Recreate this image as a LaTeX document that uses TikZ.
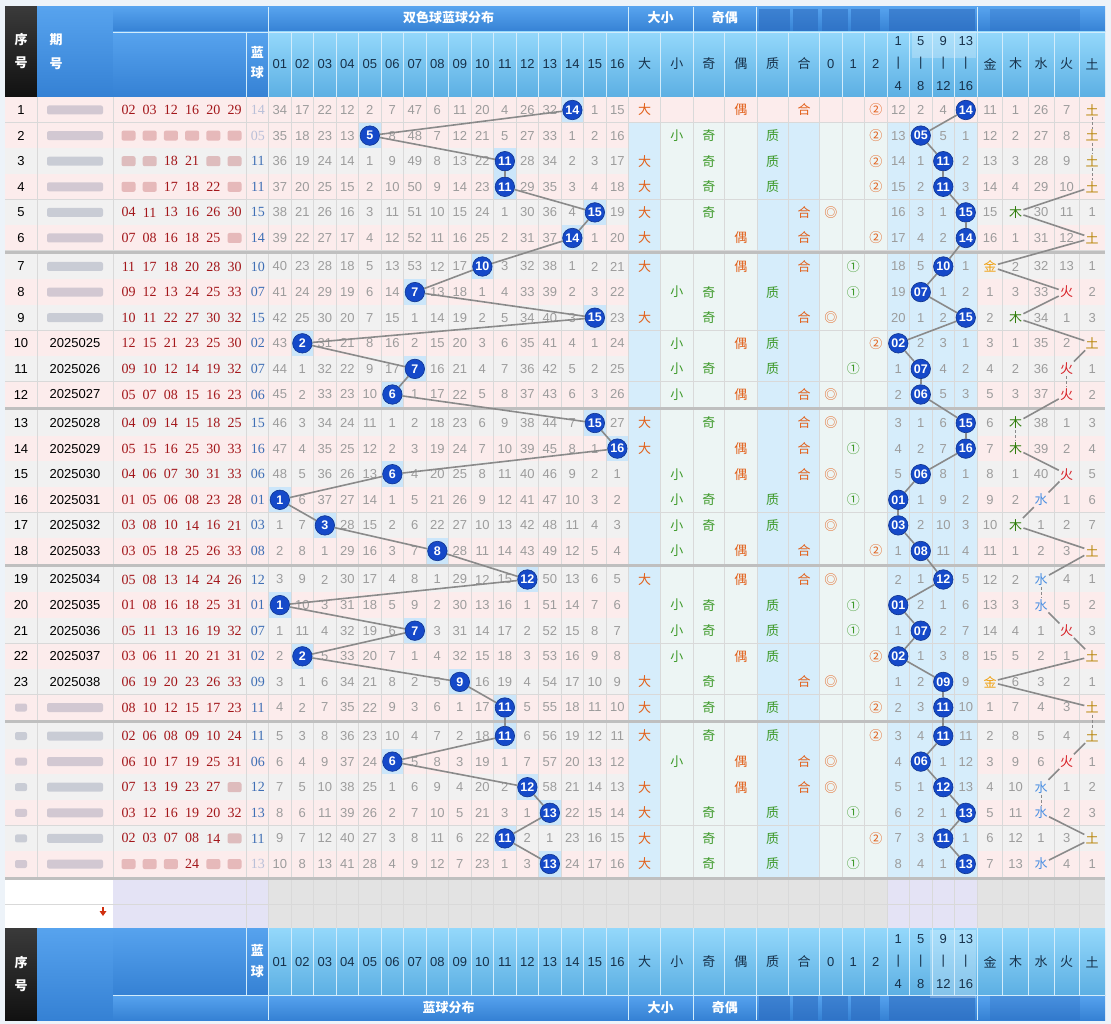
\documentclass[tikz,border=0pt]{standalone}
\usepackage{fontspec}
\setmainfont{Liberation Sans}
\newfontfamily\cjk{Noto Sans CJK SC}
\newfontfamily\redfont{Liberation Serif}

\definecolor{pagebg}{HTML}{EDF3F9}
\definecolor{darktop}{HTML}{3A3A3A}
\definecolor{darkbot}{HTML}{111111}
\definecolor{midtop}{HTML}{57A3EE}
\definecolor{midbot}{HTML}{3581D4}
\definecolor{lighttop}{HTML}{94D8FB}
\definecolor{lightbot}{HTML}{5CAFE3}
\definecolor{hsepc}{HTML}{D2ECFB}
\definecolor{hdrtext}{HTML}{17314A}
\definecolor{rowgray}{HTML}{F1F1F1}
\definecolor{rowpink}{HTML}{FCECEC}
\definecolor{colblue}{HTML}{D6EDFB}
\definecolor{colmint}{HTML}{EDF5F4}
\definecolor{hitblue}{HTML}{CBE6FA}
\definecolor{gridc}{HTML}{D9D9D9}
\definecolor{sepc}{HTML}{BFBFBF}
\definecolor{numgray}{HTML}{9C9C9C}
\definecolor{redball}{HTML}{A3171B}
\definecolor{bluenumc}{HTML}{3F6FB5}
\definecolor{ballblue}{HTML}{1549C9}
\definecolor{linkgray}{HTML}{8A8A8A}
\definecolor{bigorange}{HTML}{E2601A}
\definecolor{smallgreen}{HTML}{3E9A2A}
\definecolor{jin}{HTML}{F0A010}
\definecolor{mu}{HTML}{2F7D0A}
\definecolor{shui}{HTML}{4A8FE2}
\definecolor{huo}{HTML}{D71E24}
\definecolor{tu}{HTML}{B8860B}
\definecolor{blankgray}{HTML}{E3E3E3}
\definecolor{blanklav}{HTML}{E4E3F5}
\definecolor{smudgec}{HTML}{5A6488}
\definecolor{blurblue}{HTML}{2A68BC}
\definecolor{arrowred}{HTML}{D03010}

\tikzset{
  cell/.style={inner sep=0pt, font=\fontsize{13}{13}\selectfont},
  gnum/.style={cell, text=numgray},
  seqtext/.style={cell, text=black},
  rednum/.style={inner sep=0pt, font=\redfont\fontsize{14}{14}\selectfont, text=redball},
  bluenum/.style={inner sep=0pt, font=\redfont\fontsize{14}{14}\selectfont, text=bluenumc},
  bluefade/.style={bluenum, text opacity=.35},
  hitball/.style={circle, fill=ballblue, draw=ballblue!70!black, line width=.6pt,
    minimum size=19.5pt, inner sep=0pt, text=white, font=\fontsize{12.5}{12.5}\selectfont\bfseries},
  tag/.style={inner sep=1.2pt, font=\cjk\fontsize{13}{13}\selectfont},
  hdr/.style={inner sep=0pt, font=\fontsize{13}{13}\selectfont, text=hdrtext},
  hdrcjk/.style={inner sep=0pt, font=\cjk\fontsize{13}{13}\selectfont, text=hdrtext},
  whitecjk/.style={inner sep=0pt, font=\cjk\bfseries\fontsize{13}{13}\selectfont, text=white},
  hsep/.style={draw=hsepc, line width=.8pt},
  gridline/.style={draw=gridc, line width=.6pt},
  groupsep/.style={draw=sepc, line width=3pt},
  link/.style={draw=linkgray, line width=1.6pt},
  smudge/.style={fill=smudgec, fill opacity=.26, rounded corners=2pt},
  redsmudge/.style={fill=redball, fill opacity=.24, rounded corners=2pt},
  hblur/.style={fill=blurblue, fill opacity=.55},
  darkshade/.style={top color=darktop, bottom color=darkbot},
  midshade/.style={top color=midtop, bottom color=midbot},
  lightshade/.style={top color=lighttop, bottom color=lightbot},
}

\def\xmark{x}
\def\coledges{268.6,291.1,313.6,336.1,358.6,381.1,403.6,426.1,448.6,471.1,493.6,516.1,538.6,561.1,583.6,606.1,628.6,660.7,692.9,724.7,756.8,788.5,819.5,842,864.5,887,909.5,932,954.5,977.5,1002.7,1028.4,1054.4,1079.3}

% row/period/red balls/blue/distribution/zones/element/element values
\def\tabrows{%
1/x/{02,03,12,16,20,29}/14/{34,17,22,12,2,7,47,6,11,20,4,26,32,14,1,15}/{12,2,4,14}/5/{11,1,26,7,0},
2/x/{x,x,x,x,x,x}/5/{35,18,23,13,5,8,48,7,12,21,5,27,33,1,2,16}/{13,5,5,1}/5/{12,2,27,8,0},
3/x/{x,x,18,21,x,x}/11/{36,19,24,14,1,9,49,8,13,22,11,28,34,2,3,17}/{14,1,11,2}/5/{13,3,28,9,0},
4/x/{x,x,17,18,22,x}/11/{37,20,25,15,2,10,50,9,14,23,11,29,35,3,4,18}/{15,2,11,3}/5/{14,4,29,10,0},
5/x/{04,11,13,16,26,30}/15/{38,21,26,16,3,11,51,10,15,24,1,30,36,4,15,19}/{16,3,1,15}/2/{15,0,30,11,1},
6/x/{07,08,16,18,25,x}/14/{39,22,27,17,4,12,52,11,16,25,2,31,37,14,1,20}/{17,4,2,14}/5/{16,1,31,12,0},
7/x/{11,17,18,20,28,30}/10/{40,23,28,18,5,13,53,12,17,10,3,32,38,1,2,21}/{18,5,10,1}/1/{0,2,32,13,1},
8/x/{09,12,13,24,25,33}/7/{41,24,29,19,6,14,7,13,18,1,4,33,39,2,3,22}/{19,7,1,2}/4/{1,3,33,0,2},
9/x/{10,11,22,27,30,32}/15/{42,25,30,20,7,15,1,14,19,2,5,34,40,3,15,23}/{20,1,2,15}/2/{2,0,34,1,3},
10/2025025/{12,15,21,23,25,30}/2/{43,2,31,21,8,16,2,15,20,3,6,35,41,4,1,24}/{2,2,3,1}/5/{3,1,35,2,0},
11/2025026/{09,10,12,14,19,32}/7/{44,1,32,22,9,17,7,16,21,4,7,36,42,5,2,25}/{1,7,4,2}/4/{4,2,36,0,1},
12/2025027/{05,07,08,15,16,23}/6/{45,2,33,23,10,6,1,17,22,5,8,37,43,6,3,26}/{2,6,5,3}/4/{5,3,37,0,2},
13/2025028/{04,09,14,15,18,25}/15/{46,3,34,24,11,1,2,18,23,6,9,38,44,7,15,27}/{3,1,6,15}/2/{6,0,38,1,3},
14/2025029/{05,15,16,25,30,33}/16/{47,4,35,25,12,2,3,19,24,7,10,39,45,8,1,16}/{4,2,7,16}/2/{7,0,39,2,4},
15/2025030/{04,06,07,30,31,33}/6/{48,5,36,26,13,6,4,20,25,8,11,40,46,9,2,1}/{5,6,8,1}/4/{8,1,40,0,5},
16/2025031/{01,05,06,08,23,28}/1/{1,6,37,27,14,1,5,21,26,9,12,41,47,10,3,2}/{1,1,9,2}/3/{9,2,0,1,6},
17/2025032/{03,08,10,14,16,21}/3/{1,7,3,28,15,2,6,22,27,10,13,42,48,11,4,3}/{3,2,10,3}/2/{10,0,1,2,7},
18/2025033/{03,05,18,25,26,33}/8/{2,8,1,29,16,3,7,8,28,11,14,43,49,12,5,4}/{1,8,11,4}/5/{11,1,2,3,0},
19/2025034/{05,08,13,14,24,26}/12/{3,9,2,30,17,4,8,1,29,12,15,12,50,13,6,5}/{2,1,12,5}/3/{12,2,0,4,1},
20/2025035/{01,08,16,18,25,31}/1/{1,10,3,31,18,5,9,2,30,13,16,1,51,14,7,6}/{1,2,1,6}/3/{13,3,0,5,2},
21/2025036/{05,11,13,16,19,32}/7/{1,11,4,32,19,6,7,3,31,14,17,2,52,15,8,7}/{1,7,2,7}/4/{14,4,1,0,3},
22/2025037/{03,06,11,20,21,31}/2/{2,2,5,33,20,7,1,4,32,15,18,3,53,16,9,8}/{2,1,3,8}/5/{15,5,2,1,0},
23/2025038/{06,19,20,23,26,33}/9/{3,1,6,34,21,8,2,5,9,16,19,4,54,17,10,9}/{1,2,9,9}/1/{0,6,3,2,1},
24/x/{08,10,12,15,17,23}/11/{4,2,7,35,22,9,3,6,1,17,11,5,55,18,11,10}/{2,3,11,10}/5/{1,7,4,3,0},
25/x/{02,06,08,09,10,24}/11/{5,3,8,36,23,10,4,7,2,18,11,6,56,19,12,11}/{3,4,11,11}/5/{2,8,5,4,0},
26/x/{06,10,17,19,25,31}/6/{6,4,9,37,24,6,5,8,3,19,1,7,57,20,13,12}/{4,6,1,12}/4/{3,9,6,0,1},
27/x/{07,13,19,23,27,x}/12/{7,5,10,38,25,1,6,9,4,20,2,12,58,21,14,13}/{5,1,12,13}/3/{4,10,0,1,2},
28/x/{03,12,16,19,20,32}/13/{8,6,11,39,26,2,7,10,5,21,3,1,13,22,15,14}/{6,2,1,13}/3/{5,11,0,2,3},
29/x/{02,03,07,08,14,x}/11/{9,7,12,40,27,3,8,11,6,22,11,2,1,23,16,15}/{7,3,11,1}/5/{6,12,1,3,0},
30/x/{x,x,x,24,x,x}/13/{10,8,13,41,28,4,9,12,7,23,1,3,13,24,17,16}/{8,4,1,13}/3/{7,13,0,4,1}}

\begin{document}
\begin{tikzpicture}[x=1pt,y=-1pt]
\useasboundingbox (0,0) rectangle (1111,1024);
\fill[pagebg] (0,0) rectangle (1111,1024);

% header
\shade[darkshade] (5,7) rectangle (37,97);
\shade[midshade] (37,7) rectangle (113,97);
\shade[midshade] (113,7) rectangle (1105,32);
\shade[midshade] (113,32) rectangle (268.6,97);
\shade[lightshade] (268.6,32) rectangle (1105,97);
\fill[hblur] (759,9) rectangle (790,31);
\fill[hblur] (793,9) rectangle (818,31);
\fill[hblur] (822,9) rectangle (848,31);
\fill[hblur] (851,9) rectangle (880,31);
\fill[hblur] (889,9) rectangle (975,31);
\fill[hblur, fill opacity=.3] (990,9) rectangle (1080,31);
\fill[white, fill opacity=.25] (912,31) rectangle (976,58);
\draw[hsep] (113,32) -- (1105,32);
\foreach \x in {268.6,628.6,692.9,756.8,977.5} \draw[hsep] (\x,7) -- (\x,32);
\draw[hsep] (246,32) -- (246,97);
\foreach \x in \coledges \draw[hsep] (\x,32) -- (\x,97);

\node[whitecjk] (hs1) at (21,40) {序};
\node[whitecjk] (hs2) at (21,63) {号};
\node[whitecjk] (hp1) at (56,40) {期};
\node[whitecjk] (hp2) at (56,64) {号};
\node[whitecjk] (hb1) at (257.3,52) {蓝};
\node[whitecjk] (hb2) at (257.3,73) {球};
\node[whitecjk] (ht1) at (448.6,18) {双色球蓝球分布};
\node[whitecjk] (ht2) at (660.7,18) {大小};
\node[whitecjk] (ht3) at (724.8,18) {奇偶};
\foreach \j in {1,...,16}
  \node[hdr] (hn\j) at ({257.35+22.5*\j},64) {\ifnum\j<10 0\fi\j};
\foreach \t/\x [count=\k] in {大/644.6,小/676.8,奇/708.8,偶/740.8,质/772.7,合/804,金/990,木/1015.6,水/1041.1,火/1066.7,土/1092.2}
  \node[hdrcjk] (hc\k) at (\x,64) {\t};
\foreach \t/\x [count=\k] in {0/830.8,1/853.3,2/875.8}
  \node[hdr] (hm\k) at (\x,64) {\t};
\foreach \a/\b/\x [count=\k] in {1/4/898.25,5/8/920.75,9/12/943.25,13/16/965.75} {
  \node[hdr] (hza\k) at (\x,41) {\a};
  \node[hdr] (hzb\k) at (\x,63) {|};
  \node[hdr] (hzc\k) at (\x,86) {\b};
}

% row backgrounds
\foreach \rn/\pd/\rd/\bl/\vs/\zs/\el/\es in \tabrows {
  \pgfmathsetmacro\yy{110+156.5*int((\rn-1)/6)+25.6*mod(\rn-1,6)}
  \ifodd\rn \def\rowc{rowgray}\else\def\rowc{rowpink}\fi
  \ifnum\rn=1 \def\rowc{rowpink}\fi
  \fill[\rowc] (5,\yy-12.8) rectangle (628.6,\yy+12.8);
  \fill[\rowc] (977.5,\yy-12.8) rectangle (1105,\yy+12.8);
  \ifnum\rn=1
    \fill[rowpink] (628.6,\yy-12.8) rectangle (977.5,\yy+12.8);
  \else
    \fill[colblue] (628.6,\yy-12.8) rectangle (660.7,\yy+12.8);
    \fill[colmint] (660.7,\yy-12.8) rectangle (756.8,\yy+12.8);
    \fill[colblue] (756.8,\yy-12.8) rectangle (819.5,\yy+12.8);
    \fill[colmint] (819.5,\yy-12.8) rectangle (887,\yy+12.8);
    \fill[colblue] (887,\yy-12.8) rectangle (977.5,\yy+12.8);
  \fi
  \fill[hitblue] ({268.6+22.5*(\bl-1)},\yy-12.8) rectangle ++(22.5,25.6);
  \draw[gridline] (5,\yy+12.8) -- (1105,\yy+12.8);
}
\foreach \x in {37,113,246} \draw[gridline] (\x,97) -- (\x,877.3);
\foreach \x in \coledges \draw[gridline] (\x,97) -- (\x,877.3);
\foreach \s in {252.25,408.75,565.25,721.75,878.7} \draw[groupsep] (5,\s) -- (1105,\s);

% row contents
\foreach \rn/\pd/\rd/\bl/\vs/\zs/\el/\es in \tabrows {
  \pgfmathsetmacro\yy{110+156.5*int((\rn-1)/6)+25.6*mod(\rn-1,6)}
  \ifnum\rn>23
    \fill[smudge] (15,\yy-4) rectangle (27,\yy+4);
  \else
    \node[seqtext] (s\rn) at (21,\yy) {\rn};
  \fi
  \edef\tmp{\pd}
  \ifx\tmp\xmark
    \fill[smudge] (47,\yy-4.5) rectangle (103,\yy+4.5);
  \else
    \node[seqtext] (p\rn) at (75,\yy) {\pd};
  \fi
  \foreach \rv [count=\k] in \rd {
    \edef\tmp{\rv}
    \ifx\tmp\xmark
      \fill[redsmudge] ({128.5+21.2*(\k-1)-7},\yy-5) rectangle ++(14,10);
    \else
      \node[rednum] (r\rn-\k) at ({128.5+21.2*(\k-1)},\yy) {\rv};
    \fi
  }
  \def\bstyle{bluenum}
  \ifnum\rn<3 \def\bstyle{bluefade}\fi
  \ifnum\rn=30 \def\bstyle{bluefade}\fi
  \node[\bstyle] (u\rn) at (257.8,\yy) {\ifnum\bl<10 0\fi\bl};
  \foreach \v [count=\j] in \vs {
    \ifnum\j=\bl
      \node[hitball] (b\rn) at ({257.35+22.5*\j},\yy) {\bl};
    \else
      \node[gnum] (c\rn-\j) at ({257.35+22.5*\j},\yy) {\v};
    \fi
  }
  \ifnum\bl>8
    \node[tag, text=bigorange] (d\rn) at (644.6,\yy) {大};
  \else
    \node[tag, text=smallgreen] (d\rn) at (676.8,\yy) {小};
  \fi
  \ifodd\bl
    \node[tag, text=smallgreen] (o\rn) at (708.8,\yy) {奇};
  \else
    \node[tag, text=bigorange] (o\rn) at (740.8,\yy) {偶};
  \fi
  \def\pr{0}
  \ifcase\bl\relax\or\def\pr{1}\or\def\pr{1}\or\def\pr{1}\or\or\def\pr{1}\or\or\def\pr{1}\or\or\or\or\def\pr{1}\or\or\def\pr{1}\fi
  \ifnum\pr=1
    \node[tag, text=smallgreen] (q\rn) at (772.7,\yy) {质};
  \else
    \node[tag, text=bigorange] (q\rn) at (804,\yy) {合};
  \fi
  \pgfmathtruncatemacro\md{mod(\bl,3)}
  \ifcase\md
    \node[tag, text=bigorange] (m\rn) at (830.8,\yy) {◎};
  \or
    \node[tag, text=smallgreen] (m\rn) at (853.3,\yy) {①};
  \or
    \node[tag, text=bigorange] (m\rn) at (875.8,\yy) {②};
  \fi
  \pgfmathtruncatemacro\zh{int((\bl-1)/4)+1}
  \foreach \v [count=\j] in \zs {
    \ifnum\j=\zh
      \node[hitball] (z\rn) at ({898.25+22.5*(\j-1)},\yy) {\ifnum\bl<10 0\fi\bl};
    \else
      \node[gnum] (w\rn-\j) at ({898.25+22.5*(\j-1)},\yy) {\v};
    \fi
  }
  \ifcase\el\relax\or\def\ecol{jin}\def\echar{金}\or\def\ecol{mu}\def\echar{木}\or\def\ecol{shui}\def\echar{水}\or\def\ecol{huo}\def\echar{火}\or\def\ecol{tu}\def\echar{土}\fi
  \expandafter\xdef\csname elx\rn\endcsname{\el}
  \foreach \v [count=\j] in \es {
    \ifnum\j=\el
      \node[tag, text=\ecol] (e\rn) at ({990+25.55*(\j-1)},\yy) {\echar};
    \else
      \node[gnum] (f\rn-\j) at ({990+25.55*(\j-1)},\yy) {\v};
    \fi
  }
}

% trend lines
\foreach \rn [remember=\rn as \pv (initially 1)] in {2,...,30} {
  \draw[link] (b\pv) -- (b\rn);
  \draw[link] (z\pv) -- (z\rn);
  \ifnum\csname elx\pv\endcsname=\csname elx\rn\endcsname\relax
    \draw[link, line width=1pt, dash pattern=on 3pt off 2pt] (e\pv) -- (e\rn);
  \else
    \draw[link] (e\pv) -- (e\rn);
  \fi
}

% blank rows
\fill[white] (5,880) rectangle (113,928);
\fill[blanklav] (113,880) rectangle (268.6,928);
\fill[blankgray] (268.6,880) rectangle (887,928);
\fill[blanklav] (887,880) rectangle (977.5,928);
\fill[blankgray] (977.5,880) rectangle (1105,928);
\draw[gridline] (5,904) -- (1105,904);
\draw[gridline] (246,880) -- (246,928);
\foreach \x in \coledges \draw[gridline] (\x,880) -- (\x,928);
\fill[arrowred] (102.2,907) rectangle (103.8,911);
\fill[arrowred] (99.5,911) -- (106.5,911) -- (103,916) -- cycle;

% footer
\shade[darkshade] (5,928) rectangle (37,1020);
\shade[midshade] (37,928) rectangle (113,1020);
\shade[midshade] (113,928) rectangle (268.6,995);
\shade[lightshade] (268.6,928) rectangle (1105,995);
\shade[midshade] (113,995) rectangle (1105,1020);
\fill[hblur] (759,996) rectangle (790,1020);
\fill[hblur] (793,996) rectangle (818,1020);
\fill[hblur] (822,996) rectangle (848,1020);
\fill[hblur] (851,996) rectangle (880,1020);
\fill[hblur] (889,996) rectangle (975,1020);
\fill[hblur, fill opacity=.3] (990,996) rectangle (1080,1020);
\fill[white, fill opacity=.25] (930,930) rectangle (976,998);
\draw[hsep] (113,995) -- (1105,995);
\foreach \x in {268.6,628.6,692.9,756.8,977.5} \draw[hsep] (\x,995) -- (\x,1020);
\draw[hsep] (246,928) -- (246,995);
\foreach \x in \coledges \draw[hsep] (\x,928) -- (\x,995);

\node[whitecjk] (fs1) at (21,963) {序};
\node[whitecjk] (fs2) at (21,986) {号};
\node[whitecjk] (fb1) at (257.3,950) {蓝};
\node[whitecjk] (fb2) at (257.3,972) {球};
\node[whitecjk] (ft1) at (448.6,1008) {蓝球分布};
\node[whitecjk] (ft2) at (660.7,1008) {大小};
\node[whitecjk] (ft3) at (724.8,1008) {奇偶};
\foreach \j in {1,...,16}
  \node[hdr] (fn\j) at ({257.35+22.5*\j},962) {\ifnum\j<10 0\fi\j};
\foreach \t/\x [count=\k] in {大/644.6,小/676.8,奇/708.8,偶/740.8,质/772.7,合/804,金/990,木/1015.6,水/1041.1,火/1066.7,土/1092.2}
  \node[hdrcjk] (fc\k) at (\x,962) {\t};
\foreach \t/\x [count=\k] in {0/830.8,1/853.3,2/875.8}
  \node[hdr] (fm\k) at (\x,962) {\t};
\foreach \a/\b/\x [count=\k] in {1/4/898.25,5/8/920.75,9/12/943.25,13/16/965.75} {
  \node[hdr] (fza\k) at (\x,939) {\a};
  \node[hdr] (fzb\k) at (\x,961) {|};
  \node[hdr] (fzc\k) at (\x,984) {\b};
}
\end{tikzpicture}
\end{document}
